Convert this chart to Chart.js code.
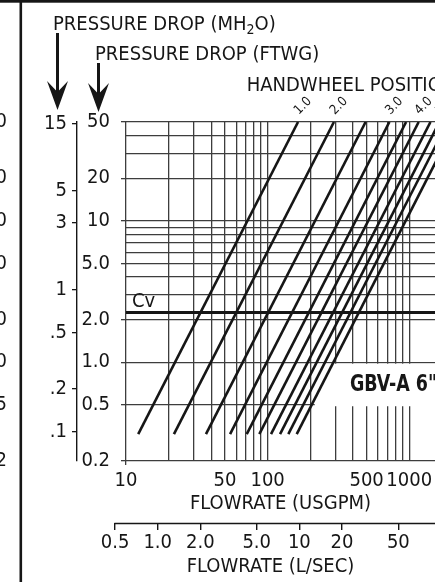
<!DOCTYPE html>
<html>
<head>
<meta charset="utf-8">
<script src="https://cdn.jsdelivr.net/npm/chart.js@4.4.0/dist/chart.umd.min.js"></script>
<style>
    html, body { margin: 0; padding: 0; background: #fff; overflow: hidden; }
    #wrap { position: relative; width: 435px; height: 582px; }
</style>
</head>
<body>
<div id="wrap"><canvas id="gbvChart"></canvas></div>
<script>
// 핸들휠 위치별 곡선
const handwheelPositions = [1.0, 2.0, 2.5, 3.0, 3.5, 4.0, 4.5, 5.0, 5.5, 6.0];
const labeledPositions = [1.0, 2.0, 3.0, 4.0, 5.0, 6.0];
const dropEnds = [0.31, 50]; // 곡선 시작/끝 압력손실 (FTWG)
const flowAtLowDrop = [12.2, 21.8, 36.7, 54.3, 71.2, 87.4, 105.7, 122.4, 140, 160.5];
const flowAtHighDrop = [164, 294, 492, 724, 950, 1166, 1412, 1634, 1871, 2143];
const cvDrop = 2.25; // Cv 기준선 (1 psi)

// 유량 축 (USGPM)
const flowRange = [10, 1520];
const flowTicks = [10, 20, 30, 40, 50, 60, 70, 80, 90, 100, 200, 300, 400, 500, 600, 700, 800, 900, 1000];
const flowLabels = [10, 50, 100, 500, 1000];

// 유량 축 (L/SEC)
const litreRange = [0.597, 90.7];
const litreTicks = [0.5, 1, 2, 5, 10, 20, 50, 200];
const litreLabels = ['0.5', '1.0', '2.0', '5.0', '10', '20', '50', '200'];

// 압력손실 축 (FTWG)
const dropRange = [0.2, 50];
const dropTicks = [0.2, 0.5, 1, 2, 3, 4, 5, 6, 7, 8, 9, 10, 20, 30, 40, 50];
const dropLabelValues = [50, 20, 10, 5, 2, 1, 0.5, 0.2];
const dropLabelText = ['50', '20', '10', '5.0', '2.0', '1.0', '0.5', '0.2'];

// 압력손실 축 (MH2O)
const metreRange = [0.0619, 15.4];
const metreTicks = [15, 5, 3, 1, 0.5, 0.2, 0.1];
const metreLabels = ['15', '5', '3', '1', '.5', '.2', '.1'];

const FONT = '"DejaVu Sans Condensed", "Liberation Sans Narrow", sans-serif';
const INK = '#161616';
const GRID = '#3d3d3d';
const CLEAR = 'rgba(0,0,0,0)';

function drawArrow(ctx, x, yTop, yTip) {
    ctx.lineWidth = 3;
    ctx.beginPath();
    ctx.moveTo(x, yTop);
    ctx.lineTo(x, yTip - 15);
    ctx.stroke();
    ctx.beginPath();
    ctx.moveTo(x, yTip);
    ctx.lineTo(x + 10.5, yTip - 29);
    ctx.lineTo(x, yTip - 18);
    ctx.lineTo(x - 10.5, yTip - 29);
    ctx.closePath();
    ctx.fill();
}

// 축 크기 고정 + 라벨 때문에 생기는 여백 제거
function fixSize(prop, size) {
    return s => {
        s[prop] = size;
        s.paddingLeft = 0;
        s.paddingRight = 0;
        s.paddingTop = 0;
        s.paddingBottom = 0;
    };
}

// 라벨, 화살표 등 차트 밖 요소 그리기
const overlayPlugin = {
    id: 'overlay',
    beforeDatasetsDraw(chart) {
        const { ctx, chartArea, scales } = chart;
        const left = scales.x.getPixelForValue(215);
        const top = scales.y.getPixelForValue(1) + 1.5;
        const bottom = scales.y.getPixelForValue(0.5) + 1.5;
        ctx.save();
        ctx.fillStyle = '#fff';
        ctx.fillRect(left, top, chartArea.right - left + 2, bottom - top);
        ctx.restore();
    },
    afterDraw(chart) {
        const { ctx, chartArea, scales } = chart;
        const { x, y, x2 } = scales;
        ctx.save();
        ctx.fillStyle = INK;
        ctx.strokeStyle = INK;

        // 상단 테두리, 왼쪽 구분선
        ctx.fillRect(0, 0, chart.width, 2.7);
        ctx.fillRect(19.5, 0, 2.6, chart.height);

        // 옆 패널 눈금 (잘려서 끝자리만 보임)
        ctx.font = `20px ${FONT}`;
        ctx.textAlign = 'right';
        ctx.textBaseline = 'middle';
        dropLabelValues.forEach((v, i) => ctx.fillText(dropLabelText[i], 7, y.getPixelForValue(v)));

        // 축 제목
        ctx.textAlign = 'left';
        ctx.textBaseline = 'alphabetic';
        let tx = 53;
        ctx.fillText('PRESSURE DROP (MH', tx, 29.5);
        tx += ctx.measureText('PRESSURE DROP (MH').width;
        ctx.font = `14px ${FONT}`;
        ctx.fillText('2', tx, 34);
        tx += ctx.measureText('2').width;
        ctx.font = `20px ${FONT}`;
        ctx.fillText('O)', tx, 29.5);
        ctx.fillText('PRESSURE DROP (FTWG)', 95, 59.5);
        ctx.fillText('HANDWHEEL POSITION', 246.7, 90.7);

        drawArrow(ctx, 57.5, 33, 110);
        drawArrow(ctx, 98.5, 63, 112);

        // Cv 라벨
        const cvY = y.getPixelForValue(cvDrop);
        ctx.fillText('Cv', chartArea.left + 6, cvY - 5.5);

        // 모델명 (좁은 굵은 글꼴 느낌으로 가로 압축)
        ctx.font = `bold 23px ${FONT}`;
        const sx = 78 / ctx.measureText('GBV-A 6').width;
        ctx.save();
        ctx.translate(350, 391);
        ctx.scale(sx, 1);
        ctx.fillText('GBV-A 6"', 0, 0);
        ctx.restore();

        // 핸들휠 위치 라벨 (45도 회전)
        ctx.font = `13px ${FONT}`;
        ctx.textAlign = 'center';
        ctx.textBaseline = 'middle';
        handwheelPositions.forEach((p, i) => {
            if (!labeledPositions.includes(p)) return;
            const px = x.getPixelForValue(flowAtHighDrop[i]) + 5;
            ctx.save();
            ctx.translate(px, chartArea.top - 16);
            ctx.rotate(-Math.PI / 4);
            ctx.fillText(p.toFixed(1), 0, 0);
            ctx.restore();
        });

        // L/SEC 축선 (0.5 눈금부터 시작)
        ctx.lineWidth = 1.4;
        ctx.beginPath();
        ctx.moveTo(x2.getPixelForValue(litreTicks[0]) - 0.7, Math.round(x2.top) + 0.5);
        ctx.lineTo(chartArea.right + 2, Math.round(x2.top) + 0.5);
        ctx.stroke();

        ctx.font = `20px ${FONT}`;
        ctx.fillText('FLOWRATE (L/SEC)', 270.5, 566.5);
        ctx.restore();
    }
};

const datasets = handwheelPositions.map((pos, i) => ({
    label: 'Handwheel ' + pos.toFixed(1),
    data: [
        { x: flowAtLowDrop[i], y: dropEnds[0] },
        { x: flowAtHighDrop[i], y: dropEnds[1] }
    ],
    borderColor: INK,
    borderWidth: 2.6,
    pointRadius: 0,
    tension: 0
}));
datasets.push({
    label: 'Cv',
    data: [{ x: flowRange[0], y: cvDrop }, { x: flowRange[1], y: cvDrop }],
    borderColor: INK,
    borderWidth: 3,
    pointRadius: 0
});

const tickFont = { family: FONT, size: 20 };

new Chart(document.getElementById('gbvChart'), {
    type: 'line',
    data: { datasets },
    options: {
        responsive: true,
        maintainAspectRatio: false,
        devicePixelRatio: 1,
        animation: false,
        layout: { autoPadding: false, padding: { left: 30, top: 122, right: 0, bottom: 0 } },
        plugins: { legend: { display: false }, tooltip: { enabled: false } },
        scales: {
            x: {
                type: 'logarithmic',
                position: 'bottom',
                min: flowRange[0],
                max: flowRange[1],
                afterBuildTicks: s => { s.ticks = flowTicks.map(v => ({ value: v })); },
                afterFit: fixSize('height', 62),
                grid: {
                    color: GRID,
                    lineWidth: 1.3,
                    tickLength: 4,
                    tickColor: c => (c.tick && c.tick.value === flowRange[0]) ? GRID : CLEAR
                },
                border: { display: false },
                ticks: {
                    autoSkip: false,
                    maxRotation: 0,
                    padding: 4,
                    color: INK,
                    font: tickFont,
                    callback: v => flowLabels.includes(v) ? String(v) : ''
                },
                title: {
                    display: true,
                    text: 'FLOWRATE (USGPM)',
                    color: INK,
                    font: tickFont,
                    padding: { top: 0, bottom: 7 }
                }
            },
            x2: {
                type: 'logarithmic',
                position: 'bottom',
                min: litreRange[0],
                max: litreRange[1],
                afterBuildTicks: s => { s.ticks = litreTicks.map(v => ({ value: v })); },
                afterFit: fixSize('height', 59),
                grid: { drawOnChartArea: false, color: INK, tickColor: INK, lineWidth: 1.4, tickLength: 7 },
                border: { display: false },
                ticks: {
                    autoSkip: false,
                    maxRotation: 0,
                    padding: 1,
                    color: INK,
                    font: tickFont,
                    callback: v => litreLabels[litreTicks.indexOf(v)]
                }
            },
            y: {
                type: 'logarithmic',
                position: 'left',
                min: dropRange[0],
                max: dropRange[1],
                afterBuildTicks: s => { s.ticks = dropTicks.map(v => ({ value: v })); },
                afterFit: fixSize('width', 49),
                grid: {
                    color: GRID,
                    lineWidth: 1.3,
                    tickLength: 5,
                    tickColor: c => (c.tick && dropLabelValues.includes(c.tick.value)) ? GRID : CLEAR
                },
                border: { display: false },
                ticks: {
                    autoSkip: false,
                    padding: 11,
                    color: INK,
                    font: tickFont,
                    callback: v => {
                        const k = dropLabelValues.indexOf(v);
                        return k < 0 ? '' : dropLabelText[k];
                    }
                }
            },
            y2: {
                type: 'logarithmic',
                position: 'left',
                min: metreRange[0],
                max: metreRange[1],
                afterBuildTicks: s => { s.ticks = metreTicks.map(v => ({ value: v })); },
                afterFit: fixSize('width', 47),
                grid: { drawOnChartArea: false, color: INK, tickColor: INK, lineWidth: 1.3, tickLength: 5 },
                border: { display: true, color: INK, width: 1.4 },
                ticks: {
                    autoSkip: false,
                    padding: 5,
                    color: INK,
                    font: tickFont,
                    callback: v => metreLabels[metreTicks.indexOf(v)]
                }
            }
        }
    },
    plugins: [overlayPlugin]
});
</script>
</body>
</html>
